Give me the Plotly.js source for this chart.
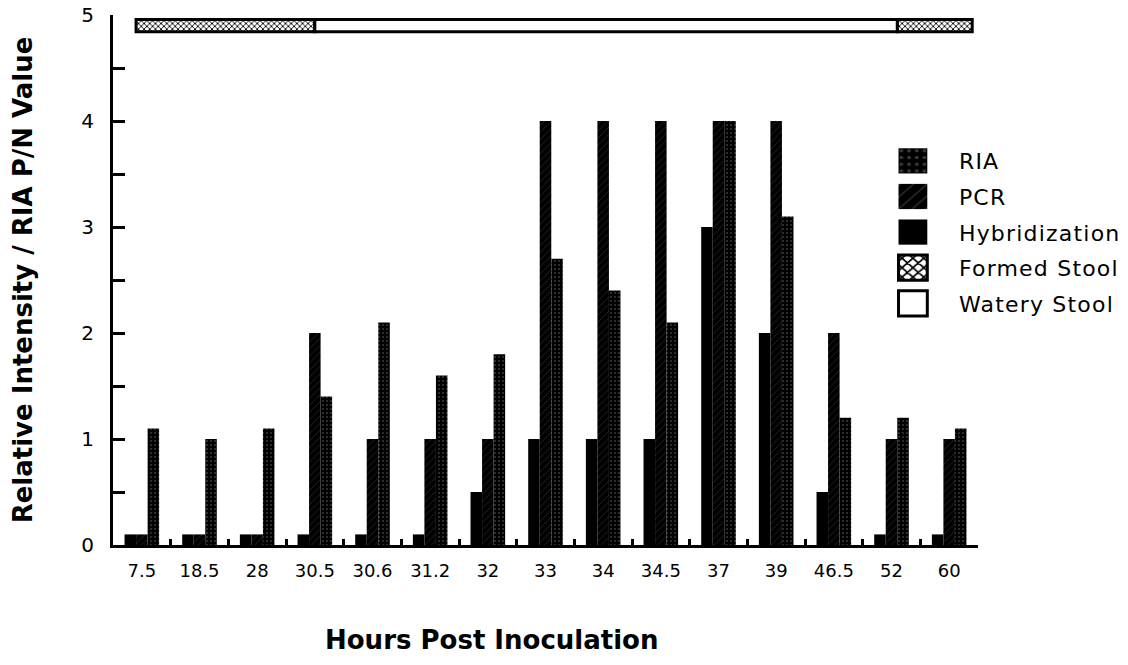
<!DOCTYPE html>
<html>
<head>
<meta charset="utf-8">
<script src="https://cdn.plot.ly/plotly-3.0.1.min.js"></script>
<style>
html,body{margin:0;padding:0;background:#fff}
#chart{width:1128px;height:665px}
#chart .legend .scrollbox{clip-path:none !important}
#chart .legendtext{letter-spacing:1.2px}
#chart .legendpoints path{transform:translate(24px,0) scale(2.4,2.1);vector-effect:non-scaling-stroke}
</style>
</head>
<body>
<div id="chart"></div>
<script>
const hours = ["7.5","18.5","28","30.5","30.6","31.2","32","33","34","34.5","37","39","46.5","52","60"];
const hybridization = [0.1,0.1,0.1,0.1,0.1,0.1,0.5,1,1,1,3,2,0.5,0.1,0.1];
const pcr = [0.1,0.1,0.1,2,1,1,1,4,4,4,4,4,2,1,1];
const ria = [1.1,1.0,1.1,1.4,2.1,1.6,1.8,2.7,2.4,2.1,4,3.1,1.2,1.2,1.1];
// stool condition bar (category-index positions along the time axis)
const formedStart = [-0.1, 13.1];
const formedEnd = [3.0, 14.4];
const wateryStart = [3.0];
const wateryEnd = [13.1];
const stoolLevel = 4.9;

const F = "DejaVu Sans, sans-serif";
const diff = (a,b)=>a.map((v,i)=>b[i]-v);

const traces = [
  {type:'bar', name:'Hybridization', x:hours, y:hybridization, legendrank:3, legendgroup:'g3',
   marker:{color:'#000', line:{width:0}}},
  {type:'bar', name:'PCR', x:hours, y:pcr, legendrank:2, legendgroup:'g2',
   marker:{color:'#000', line:{width:0}, pattern:{shape:'/', fgcolor:'#3a3a3a', bgcolor:'#000', size:5, solidity:0.12}}},
  {type:'bar', name:'RIA', x:hours, y:ria, legendrank:1, legendgroup:'g1',
   marker:{color:'#000', line:{width:0}, pattern:{shape:'.', fgcolor:'#3a3a3a', bgcolor:'#000', size:4, solidity:0.2}}},
  {type:'bar', orientation:'h', name:'Formed Stool', xaxis:'x2', yaxis:'y', legendgroup:'g4',
   y:formedStart.map(()=>stoolLevel), base:formedStart, x:diff(formedStart, formedEnd),
   width:0.115, offsetgroup:'stool', legendrank:4,
   marker:{color:'#fff', line:{color:'#000', width:3}, pattern:{shape:'x', fgcolor:'#000', bgcolor:'#fff', size:4, solidity:0.4}}},
  {type:'bar', orientation:'h', name:'Watery Stool', xaxis:'x2', yaxis:'y', legendgroup:'g5',
   y:wateryStart.map(()=>stoolLevel), base:wateryStart, x:diff(wateryStart, wateryEnd),
   width:0.115, offsetgroup:'stool', legendrank:5,
   marker:{color:'#fff', line:{color:'#000', width:3}}}
];

const layout = {
  width:1128, height:665,
  margin:{l:113, r:150, t:15, b:120},
  paper_bgcolor:'#fff', plot_bgcolor:'#fff',
  barmode:'group', bargap:0.4, bargroupgap:0,
  font:{family:F, size:18, color:'#000'},
  showlegend:true,
  legend:{x:0.897, y:0.764, xanchor:'left', yanchor:'top', font:{family:F, size:22, color:'#000'},
          bgcolor:'rgba(0,0,0,0)', itemwidth:60, tracegroupgap:4, traceorder:'grouped'},
  xaxis:{type:'category', range:[-0.5,14.5], showline:true, linewidth:3, linecolor:'#000',
         ticks:'inside', tickson:'boundaries', ticklen:6, tickwidth:3, tickcolor:'#000',
         showgrid:false, zeroline:false, ticklabelstandoff:7, tickfont:{size:18}},
  xaxis2:{overlaying:'x', type:'linear', range:[-0.5,14.5], visible:false},
  yaxis:{range:[0,5], dtick:1, showline:true, linewidth:3, linecolor:'#000',
         ticks:'inside', ticklen:12, tickwidth:3, tickcolor:'#000',
         minor:{dtick:0.5, ticks:'inside', ticklen:12, tickwidth:3, tickcolor:'#000', showgrid:false},
         showgrid:false, zeroline:false, ticklabelstandoff:12, tickfont:{size:20},
         title:{text:'Relative Intensity / RIA P/N Value', font:{family:F, size:26, weight:'bold'}, standoff:42}},
  annotations:[{text:'Hours Post Inoculation', xref:'paper', yref:'paper', x:0.438, y:-0.179,
                xanchor:'center', yanchor:'middle', showarrow:false,
                font:{family:F, size:26, weight:'bold', color:'#000'}}]
};

Plotly.newPlot('chart', traces, layout, {displayModeBar:false, staticPlot:true});
</script>
</body>
</html>
